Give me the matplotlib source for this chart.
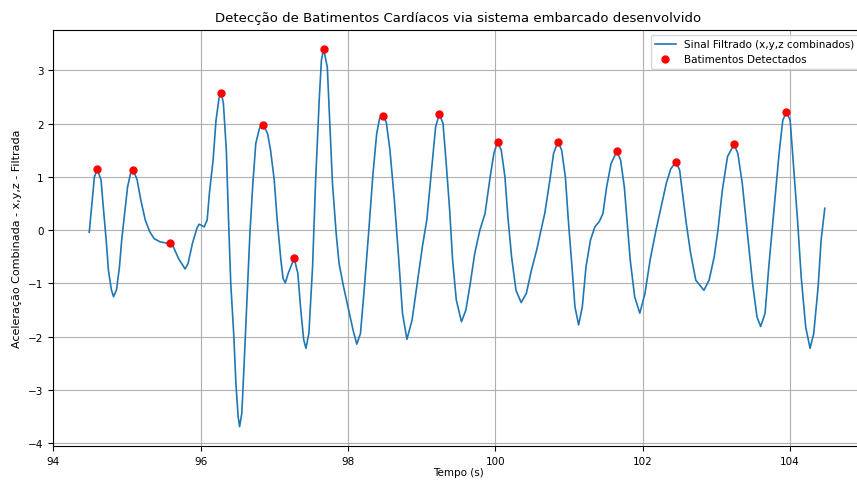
import matplotlib
matplotlib.use("Agg")
import matplotlib.pyplot as plt

# sinal filtrado
tempo = [
    94.49, 94.53, 94.56, 94.60, 94.65, 94.68, 94.72, 94.75, 94.79, 94.82,
    94.86, 94.90, 94.93, 94.97, 95.01, 95.05, 95.09, 95.14, 95.19, 95.25,
    95.31, 95.37, 95.45, 95.52, 95.58, 95.63, 95.70, 95.79, 95.83, 95.89,
    95.95, 95.98, 96.01, 96.05, 96.09, 96.12, 96.17, 96.21, 96.25, 96.28,
    96.31, 96.35, 96.38, 96.41, 96.45, 96.48, 96.51, 96.53, 96.56, 96.59,
    96.63, 96.67, 96.71, 96.75, 96.80, 96.85, 96.91, 96.95, 97.00, 97.04,
    97.09, 97.12, 97.15, 97.19, 97.27, 97.32, 97.36, 97.40, 97.43, 97.47,
    97.52, 97.56, 97.61, 97.64, 97.67, 97.72, 97.75, 97.79, 97.84, 97.88,
    97.94, 98.01, 98.07, 98.12, 98.17, 98.22, 98.28, 98.34, 98.39, 98.43,
    98.47, 98.52, 98.57, 98.63, 98.69, 98.74, 98.80, 98.87, 98.94, 99.01,
    99.07, 99.13, 99.19, 99.24, 99.29, 99.33, 99.38, 99.42, 99.47, 99.54,
    99.60, 99.66, 99.72, 99.79, 99.86, 99.93, 99.98, 100.03, 100.08, 100.13,
    100.17, 100.22, 100.28, 100.35, 100.42, 100.49, 100.56, 100.61, 100.67, 100.74,
    100.79, 100.85, 100.90, 100.95, 100.99, 101.04, 101.08, 101.13, 101.18, 101.23,
    101.29, 101.35, 101.41, 101.46, 101.51, 101.57, 101.65, 101.70, 101.75, 101.79,
    101.83, 101.89, 101.96, 102.03, 102.10, 102.18, 102.25, 102.32, 102.38, 102.45,
    102.50, 102.54, 102.59, 102.65, 102.72, 102.83, 102.90, 102.97, 103.02, 103.08,
    103.15, 103.24, 103.29, 103.35, 103.42, 103.49, 103.55, 103.60, 103.66, 103.71,
    103.78, 103.85, 103.90, 103.95, 104.00, 104.04, 104.10, 104.15, 104.21, 104.27,
    104.32, 104.38, 104.42, 104.47,
]
sinal = [
    -0.04, 0.56, 1.00, 1.14, 0.94, 0.44, -0.19, -0.75, -1.12, -1.25,
    -1.12, -0.69, -0.19, 0.31, 0.81, 1.06, 1.12, 0.94, 0.56, 0.19,
    -0.03, -0.16, -0.22, -0.24, -0.24, -0.31, -0.53, -0.73, -0.63, -0.25,
    0.03, 0.11, 0.09, 0.06, 0.19, 0.69, 1.31, 2.06, 2.47, 2.58,
    2.38, 1.50, 0.19, -1.00, -1.94, -2.88, -3.50, -3.69, -3.44, -2.56,
    -1.31, -0.06, 0.88, 1.63, 1.91, 1.98, 1.81, 1.50, 0.94, 0.19,
    -0.56, -0.91, -0.99, -0.81, -0.53, -0.81, -1.50, -2.06, -2.22, -1.94,
    -0.69, 0.88, 2.44, 3.19, 3.40, 3.06, 2.13, 0.88, -0.06, -0.63,
    -1.06, -1.50, -1.88, -2.14, -1.94, -1.13, -0.06, 1.06, 1.81, 2.10,
    2.15, 2.03, 1.50, 0.56, -0.56, -1.56, -2.05, -1.69, -1.00, -0.31,
    0.19, 1.06, 1.94, 2.18, 2.00, 1.31, 0.38, -0.56, -1.31, -1.72,
    -1.50, -1.00, -0.44, 0.00, 0.31, 1.00, 1.44, 1.66, 1.50, 1.00,
    0.25, -0.50, -1.13, -1.36, -1.19, -0.75, -0.38, -0.06, 0.31, 0.94,
    1.44, 1.66, 1.50, 1.00, 0.19, -0.69, -1.44, -1.78, -1.44, -0.69,
    -0.19, 0.06, 0.16, 0.31, 0.81, 1.25, 1.48, 1.31, 0.81, 0.13,
    -0.56, -1.25, -1.56, -1.19, -0.56, 0.00, 0.44, 0.88, 1.15, 1.28,
    1.13, 0.69, 0.13, -0.44, -0.94, -1.13, -0.94, -0.50, 0.00, 0.75,
    1.38, 1.61, 1.44, 0.88, -0.06, -1.00, -1.63, -1.81, -1.56, -0.69,
    0.38, 1.44, 2.06, 2.22, 2.06, 1.31, 0.19, -0.88, -1.81, -2.22,
    -1.94, -1.06, -0.19, 0.41,
]

# batimentos detectados
picos_t = [94.60, 95.09, 95.58, 96.28, 96.85, 97.27, 97.67, 98.47,
           99.24, 100.03, 100.85, 101.65, 102.45, 103.24, 103.95]
picos_v = [1.14, 1.12, -0.24, 2.58, 1.98, -0.53, 3.40, 2.15,
           2.18, 1.66, 1.66, 1.48, 1.28, 1.61, 2.22]

fig = plt.figure(figsize=(8.57, 4.81), dpi=100)
ax = fig.add_axes([0.062, 0.071, 0.946, 0.865])

ax.plot(tempo, sinal, color='#1f77b4', linewidth=1.2, label='Sinal Filtrado (x,y,z combinados)')
ax.plot(picos_t, picos_v, 'ro', markersize=5, label='Batimentos Detectados')

ax.set_title('Detecção de Batimentos Cardíacos via sistema embarcado desenvolvido', fontsize=9.5)
ax.set_xlabel('Tempo (s)', fontsize=7.5, labelpad=1)
ax.set_ylabel('Aceleração Combinada - x,y,z - Filtrada', fontsize=8)
ax.tick_params(labelsize=7.5)
ax.set_xlim(94, 105)
ax.set_ylim(-4.05, 3.76)
ax.grid(True)
ax.legend(loc='upper right', fontsize=7.5)

fig.savefig('out.png', dpi=100)
